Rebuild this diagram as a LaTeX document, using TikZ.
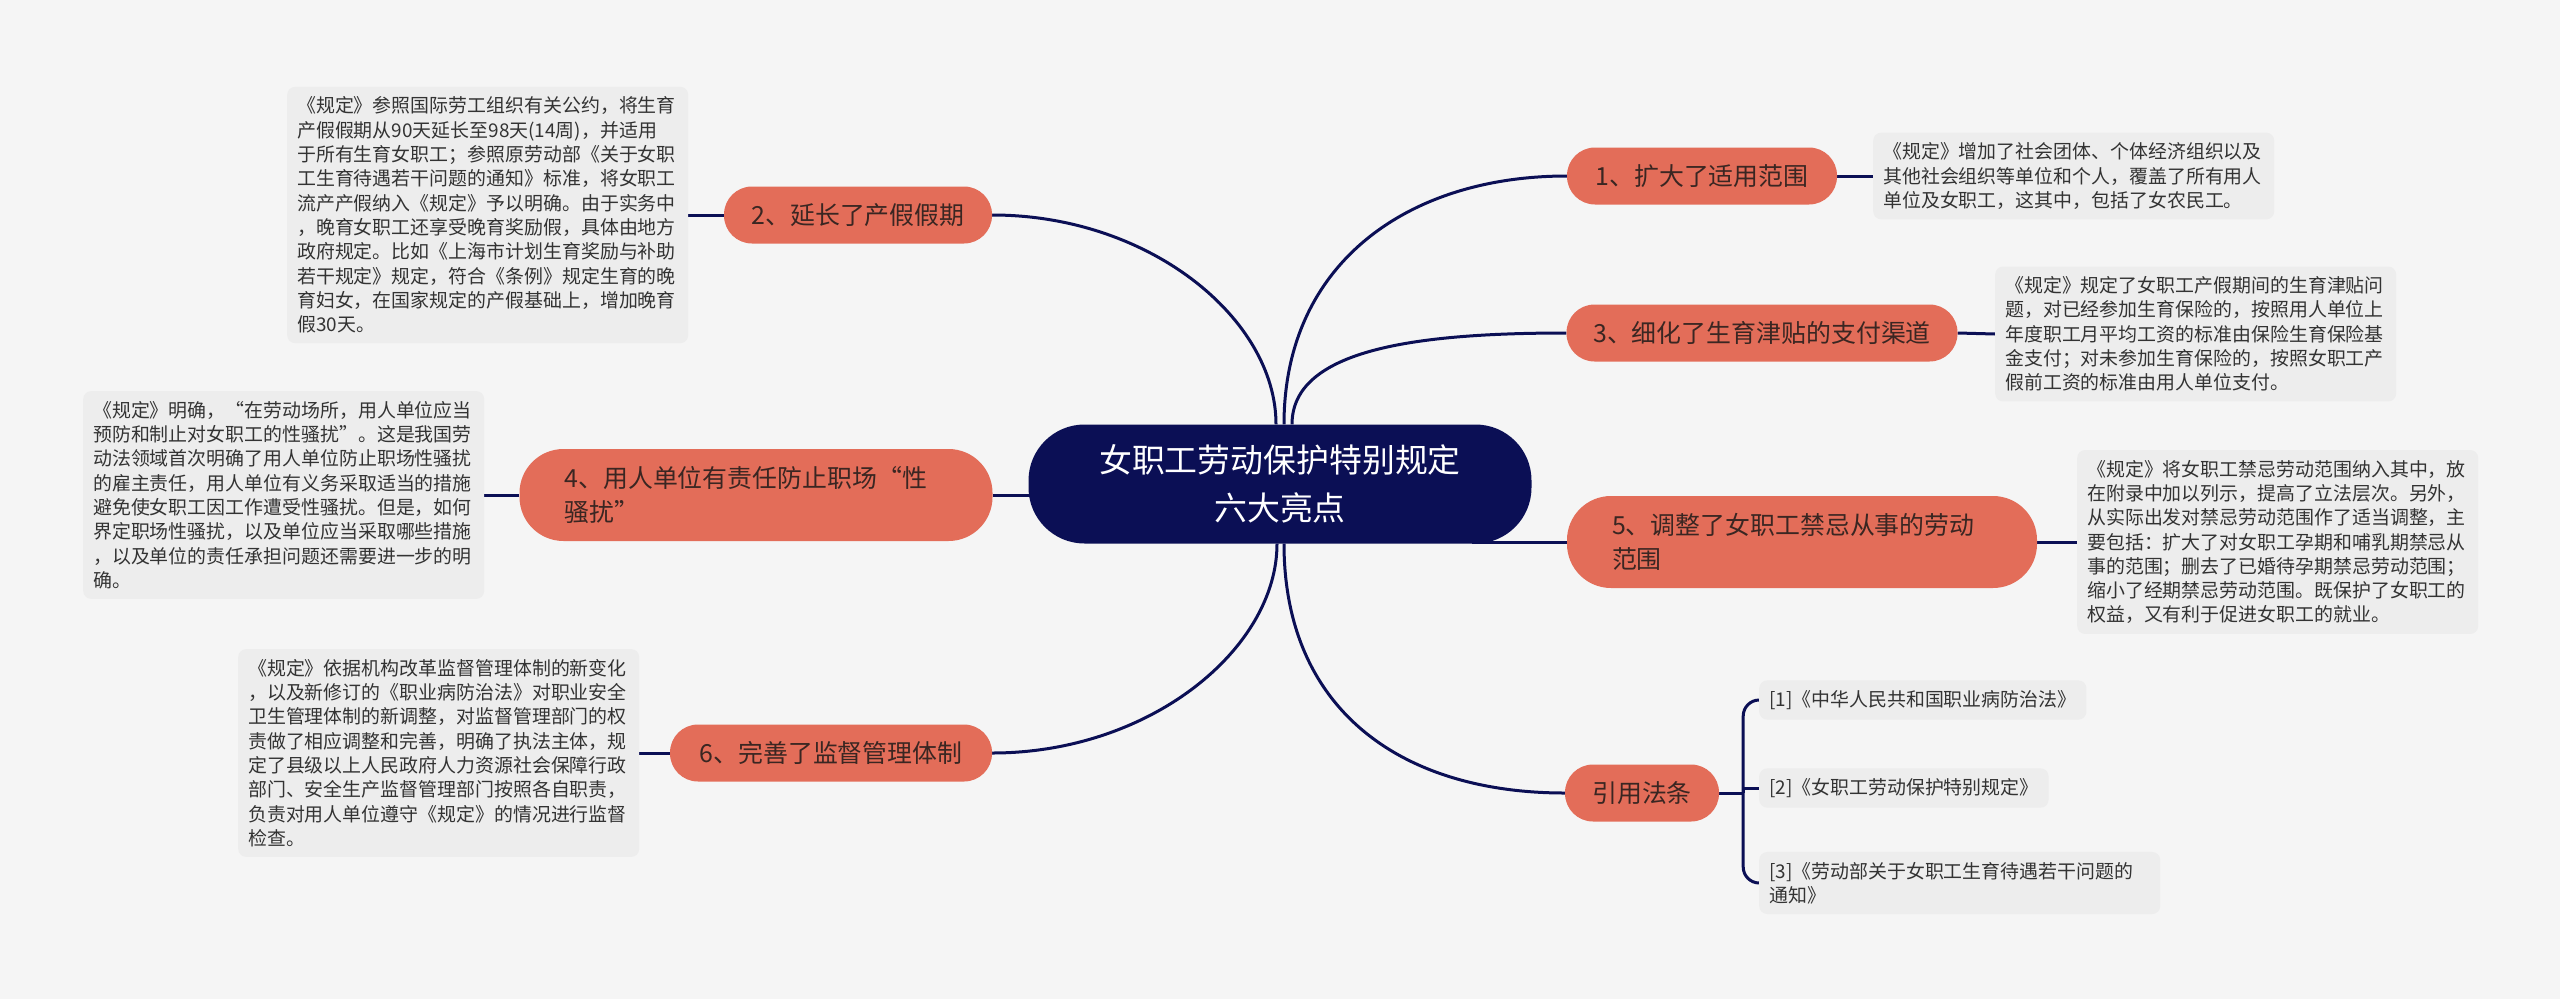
\documentclass[tikz,border=0pt]{standalone}
\usepackage{fontspec}
\newfontfamily\cjk{Noto Sans CJK SC}
\usetikzlibrary{calc,backgrounds}
\definecolor{bgc}{HTML}{F5F5F5}
\definecolor{boxc}{HTML}{EDEDED}
\definecolor{topicc}{HTML}{E36D59}
\definecolor{navy}{HTML}{0B0F55}
\definecolor{txt}{HTML}{333333}
\definecolor{ttxt}{HTML}{3A2622}
\pgfdeclarelayer{canvas}
\pgfsetlayers{canvas,background,main}
\begin{document}
\begin{tikzpicture}[x=1bp,y=-1bp,
  central/.style={fill=navy, text=white, rounded corners=56bp, minimum width=503bp, minimum height=119bp, align=center, font=\cjk\fontsize{33}{48}\selectfont, inner sep=0pt},
  topic/.style={fill=topicc, text=ttxt, rounded corners=28bp, minimum height=57bp, inner xsep=0pt, inner ysep=0pt, font=\cjk\fontsize{25}{34}\selectfont},
  topictwo/.style={topic, rounded corners=44bp, minimum height=92bp, align=left},
  detail/.style={fill=boxc, text=txt, rounded corners=8bp, anchor=west, text width=381bp, inner sep=10bp, align=left, font=\cjk\fontsize{19}{24.4}\selectfont},
  refbox/.style={fill=boxc, text=txt, rounded corners=8bp, anchor=west, inner sep=10bp, align=left, font=\cjk\fontsize{19}{24.4}\selectfont},
  link/.style={draw=navy, line width=3bp}
]
\useasboundingbox (0,0) rectangle (2560,999);
\begin{pgfonlayer}{canvas}
\fill[bgc] (0,0) rectangle (2560,999);
\end{pgfonlayer}

\node[central] (c) at (1280,484) {女职工劳动保护特别规定\\六大亮点};

\node[topic, minimum width=270bp] (n1) at (1702,176) {1、扩大了适用范围};
\node[topic, minimum width=268bp] (n2) at (858,215) {2、延长了产假假期};
\node[topic, minimum width=391bp] (n3) at (1762,333) {3、细化了生育津贴的支付渠道};
\node[topictwo, text width=383bp, inner xsep=45bp] (n4) at (756,495) {4、用人单位有责任防止职场“性\\骚扰”};
\node[topictwo, text width=380bp, inner xsep=45bp] (n5) at (1802,542) {5、调整了女职工禁忌从事的劳动\\范围};
\node[topic, minimum width=322bp] (n6) at (831,753) {6、完善了监督管理体制};
\node[topic, minimum width=154bp] (nr) at (1642,793) {引用法条};

\node[detail] (dA) at (287,215) {《规定》参照国际劳工组织有关公约，将生育\\产假假期从90天延长至98天(14周)，并适用\\于所有生育女职工；参照原劳动部《关于女职\\工生育待遇若干问题的通知》标准，将女职工\\流产产假纳入《规定》予以明确。由于实务中\\，晚育女职工还享受晚育奖励假，具体由地方\\政府规定。比如《上海市计划生育奖励与补助\\若干规定》规定，符合《条例》规定生育的晚\\育妇女，在国家规定的产假基础上，增加晚育\\假30天。};
\node[detail] (dB) at (83,495) {《规定》明确，“在劳动场所，用人单位应当\\预防和制止对女职工的性骚扰”。这是我国劳\\动法领域首次明确了用人单位防止职场性骚扰\\的雇主责任，用人单位有义务采取适当的措施\\避免使女职工因工作遭受性骚扰。但是，如何\\界定职场性骚扰，以及单位应当采取哪些措施\\，以及单位的责任承担问题还需要进一步的明\\确。};
\node[detail] (dC) at (238,753) {《规定》依据机构改革监督管理体制的新变化\\，以及新修订的《职业病防治法》对职业安全\\卫生管理体制的新调整，对监督管理部门的权\\责做了相应调整和完善，明确了执法主体，规\\定了县级以上人民政府人力资源社会保障行政\\部门、安全生产监督管理部门按照各自职责，\\负责对用人单位遵守《规定》的情况进行监督\\检查。};
\node[detail] (dD) at (1873,176) {《规定》增加了社会团体、个体经济组织以及\\其他社会组织等单位和个人，覆盖了所有用人\\单位及女职工，这其中，包括了女农民工。};
\node[detail] (dE) at (1995,334) {《规定》规定了女职工产假期间的生育津贴问\\题，对已经参加生育保险的，按照用人单位上\\年度职工月平均工资的标准由保险生育保险基\\金支付；对未参加生育保险的，按照女职工产\\假前工资的标准由用人单位支付。};
\node[detail] (dF) at (2077,542) {《规定》将女职工禁忌劳动范围纳入其中，放\\在附录中加以列示，提高了立法层次。另外，\\从实际出发对禁忌劳动范围作了适当调整，主\\要包括：扩大了对女职工孕期和哺乳期禁忌从\\事的范围；删去了已婚待孕期禁忌劳动范围；\\缩小了经期禁忌劳动范围。既保护了女职工的\\权益，又有利于促进女职工的就业。};

\node[refbox] (r1) at (1759,700) {[1]《中华人民共和国职业病防治法》};
\node[refbox] (r2) at (1759,788) {[2]《女职工劳动保护特别规定》};
\node[refbox, text width=381bp] (r3) at (1759,883) {[3]《劳动部关于女职工生育待遇若干问题的\\通知》};

\begin{pgfonlayer}{background}
\draw[link] (n2.east) .. controls +(158,0) and +(0,-105) .. ($(c.north)+(-4,0)$);
\draw[link] ($(c.north)+(4,0)$) .. controls +(0,-160) and +(-160,0) .. (n1.west);
\draw[link] ($(c.north)+(12,0)$) .. controls +(0,-75) and +(-150,0) .. (n3.west);
\draw[link] (n4.east) -- (n4.east -| c.center);
\draw[link] ($(n5.west -| c.east)+(-60,0)$) -- (n5.west);
\draw[link] (n6.east) .. controls +(158,0) and +(0,105) .. ($(c.south)+(-3,0)$);
\draw[link] ($(c.south)+(4,0)$) .. controls +(0,165) and +(-165,0) .. (nr.west);
\draw[link] (n2.west) -- (dA.east);
\draw[link] (n4.west) -- (dB.east);
\draw[link] (n6.west) -- (dC.east);
\draw[link] (n1.east) -- (dD.west);
\draw[link] (n3.east) -- (dE.west);
\draw[link] (n5.east) -- (dF.west);
\draw[link] (nr.east) -- ++(24,0) coordinate (br);
\draw[link, rounded corners=16bp] (r1.west) -| (br) |- (r3.west);
\draw[link] (br) |- (r2.west);
\end{pgfonlayer}
\end{tikzpicture}
\end{document}
